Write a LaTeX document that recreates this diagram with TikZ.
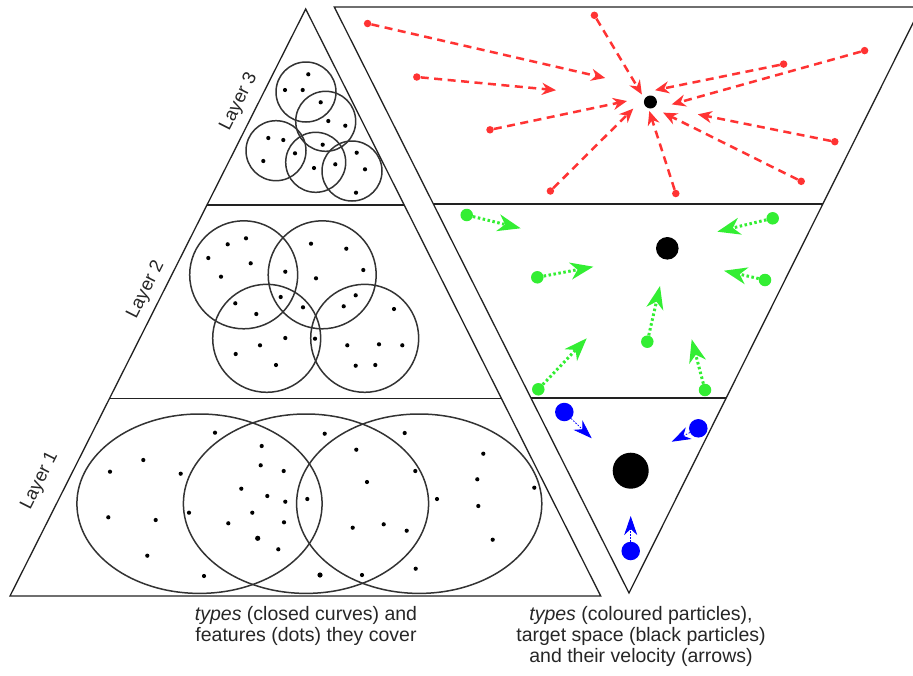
\documentclass[tikz,border=0pt]{standalone}
\usepackage{fontspec}
\setmainfont{Liberation Sans}
\usetikzlibrary{arrows.meta}
\definecolor{framecol}{HTML}{222222}
\definecolor{curvecol}{HTML}{333333}
\definecolor{pred}{HTML}{FF3333}
\definecolor{pgreen}{HTML}{33EE33}
\definecolor{pblue}{HTML}{0000FF}
\begin{document}
\begin{tikzpicture}[x=1pt,y=-1pt,
  frame/.style={draw=framecol, line width=1.3pt, line join=miter},
  typecurve/.style={draw=curvecol, line width=1.5pt},
  feature/.style={fill=black},
  caption/.style={font=\fontsize{19.5}{21}\selectfont, text=black!85, align=center, inner sep=0pt},
  layerlabel/.style={font=\fontsize{18.5}{21}\selectfont, text=black!85, rotate=63.2, inner sep=0pt},
  target/.style={circle, fill=black, inner sep=0pt},
  redtail/.style={circle, fill=pred, inner sep=0pt, minimum size=7.5pt},
  greentail/.style={circle, fill=pgreen, inner sep=0pt, minimum size=12.5pt},
  bluetail/.style={circle, fill=pblue, inner sep=0pt, minimum size=18.5pt},
  redarrow/.style={draw=pred, line width=2.5pt, dash pattern=on 8pt off 5.5pt,
    -{Stealth[length=14pt, width=12pt, inset=4.5pt, fill=pred]}},
  greenarrow/.style={draw=pgreen, line width=3pt, dash pattern=on 2.5pt off 2.5pt,
    -{Stealth[length=23pt, width=17pt, inset=7pt, fill=pgreen]}},
  bluearrow/.style={draw=pblue, line width=0.8pt, dash pattern=on 1.5pt off 1.5pt,
    -{Stealth[length=19pt, width=13pt, inset=6pt, fill=pblue]}},
]
\useasboundingbox (0,0) rectangle (913,675);

% ---------- left pyramid: types as closed curves ----------
\coordinate (LA) at (305.7,9);
\coordinate (LB) at (10,596);
\coordinate (LC) at (600.7,596);
\draw[frame] (LA) -- (LB) -- (LC) -- cycle;
\coordinate (L32a) at (206.9,205);
\coordinate (L32b) at (404.3,205);
\coordinate (L21a) at (109.4,398.5);
\coordinate (L21b) at (501.6,398.5);
\draw[frame] (L32a) -- (L32b);
\draw[frame] (L21a) -- (L21b);

% layer 3 circles
\foreach \cx/\cy in {306/92, 325.7/121.3, 276/150.7, 315.7/162.3, 352/171}
  \draw[typecurve] (\cx,\cy) circle (30);
\foreach \dx/\dy in {308.3/74.3, 285/90, 302.7/90, 320.7/102.3, 328.3/121, 345.3/125.7,
  268.3/138, 283.3/140, 263.3/161, 295/153.3, 322.7/144.7, 314/168, 335.3/164.3,
  356.7/152.7, 365/169.3, 356/192.7}
  \fill[feature] (\dx,\dy) circle (2.1);

% layer 2 circles
\foreach \cx/\cy in {243.7/274.8, 322.2/274.8, 266.7/338.3, 364.7/338.3}
  \draw[typecurve] (\cx,\cy) circle (54);
\foreach \dx/\dy in {246/238.3, 227.7/244.3, 208.3/258, 250.7/263.3, 221/276.7,
  311/243.7, 346.3/248.7, 363.3/270, 285.3/271.7, 316/278.3, 280.7/297,
  235.3/303.3, 256.3/314, 303/307.3, 355.7/295.3, 343.7/306.3, 394/309,
  285.3/338, 260/345.3, 315/338.7, 235.7/354, 276/365, 347.3/345.3,
  379/344.3, 402.3/345.3, 355.7/365.7, 375.3/365}
  \fill[feature] (\dx,\dy) circle (2.1);

% layer 1 ellipses
\foreach \cx in {199.5, 306, 419.2}
  \draw[typecurve] (\cx,503.7) ellipse [x radius=122.6, y radius=89.7];
\foreach \dx/\dy in {215/432.7, 143.3/460, 110/471.7, 180.7/473.7, 108.3/517.3,
  155.7/520, 147.3/555.7, 204/576, 261.7/446, 260.7/465.3, 283.7/471,
  241.3/488.7, 267.3/496, 285.3/501.7, 189/512.7, 252.3/512.7, 228.3/523.3,
  284/522.3, 278.3/549.3, 307.3/499, 324.7/433.7, 356.3/449.7, 367/482,
  415.3/471, 437/499, 352.7/527.7, 383.7/524.3, 406.7/530.7, 362/575,
  404.7/433, 483.3/453.7, 477.3/479.3, 534.3/487.7, 478.3/506,
  492.7/539.7, 415.7/568.7}
  \fill[feature] (\dx,\dy) circle (2.1);
\fill[feature] (257.7,538.3) circle (2.6);
\fill[feature] (320,575) circle (2.6);

\node[layerlabel] (lay3) at (239,102) {Layer 3};
\node[layerlabel] (lay2) at (146,290) {Layer 2};
\node[layerlabel] (lay1) at (40,481) {Layer 1};

% ---------- right pyramid: types as particles ----------
\coordinate (RA) at (334.3,7);
\coordinate (RB) at (921,7);
\coordinate (RC) at (629,593);
\draw[frame] (RA) -- (RB) -- (RC) -- cycle;
\coordinate (R32a) at (433.4,204);
\coordinate (R32b) at (823,204);
\coordinate (R21a) at (530.9,398);
\coordinate (R21b) at (726.2,398);
\draw[frame] (R32a) -- (R32b);
\draw[frame] (R21a) -- (R21b);

% layer 3: many small red particles
\node[target, minimum size=13pt] (t3) at (650.4,102) {};
\foreach \i/\tx/\ty/\hx/\hy in {1/367.6/23.5/605.2/78, 2/416.8/77/556/90.2,
  3/490/129.8/627/101, 4/594.4/15.3/641.9/94.5, 5/550.4/191/633.3/108.6,
  6/675.8/193.5/649.3/111, 7/801.2/181.3/663.1/112.6, 8/834.8/141.7/697.8/114.3,
  9/864.6/50.6/671.7/104.4, 10/783.6/64.1/655/90.2}{
  \node[redtail] (r\i) at (\tx,\ty) {};
  \coordinate (rh\i) at (\hx,\hy);
  \draw[redarrow] (r\i) -- (rh\i);
}

% layer 2: green particles
\node[target, minimum size=22.6pt] (t2) at (667.3,248.3) {};
\foreach \i/\tx/\ty/\hx/\hy in {1/466.7/215/520.7/228.3, 2/537.3/277.3/593.3/266.7,
  3/538.3/389.3/586.7/338.3, 4/647.3/341.7/660/286, 5/705/390/691.7/339.3,
  6/772.7/218.3/717.3/231.7, 7/765/280/724/270.7}{
  \node[greentail] (g\i) at (\tx,\ty) {};
  \coordinate (gh\i) at (\hx,\hy);
  \draw[greenarrow] (g\i) -- (gh\i);
}

% layer 1: blue particles
\node[target, minimum size=36pt] (t1) at (630.7,470.7) {};
\foreach \i/\tx/\ty/\hx/\hy in {1/564.3/412/591.7/438.3, 2/698.3/428.3/671.7/441.7,
  3/630.7/551/630.7/516}{
  \node[bluetail] (b\i) at (\tx,\ty) {};
  \coordinate (bh\i) at (\hx,\hy);
  \draw[bluearrow] (b\i) -- (bh\i);
}

% ---------- captions ----------
\node[caption] (capL) at (306,625.5) {\textit{types} (closed curves) and\\features (dots) they cover};
\node[caption] (capR) at (641,636) {\textit{types} (coloured particles),\\target space (black particles)\\and their velocity (arrows)};
\end{tikzpicture}
\end{document}
